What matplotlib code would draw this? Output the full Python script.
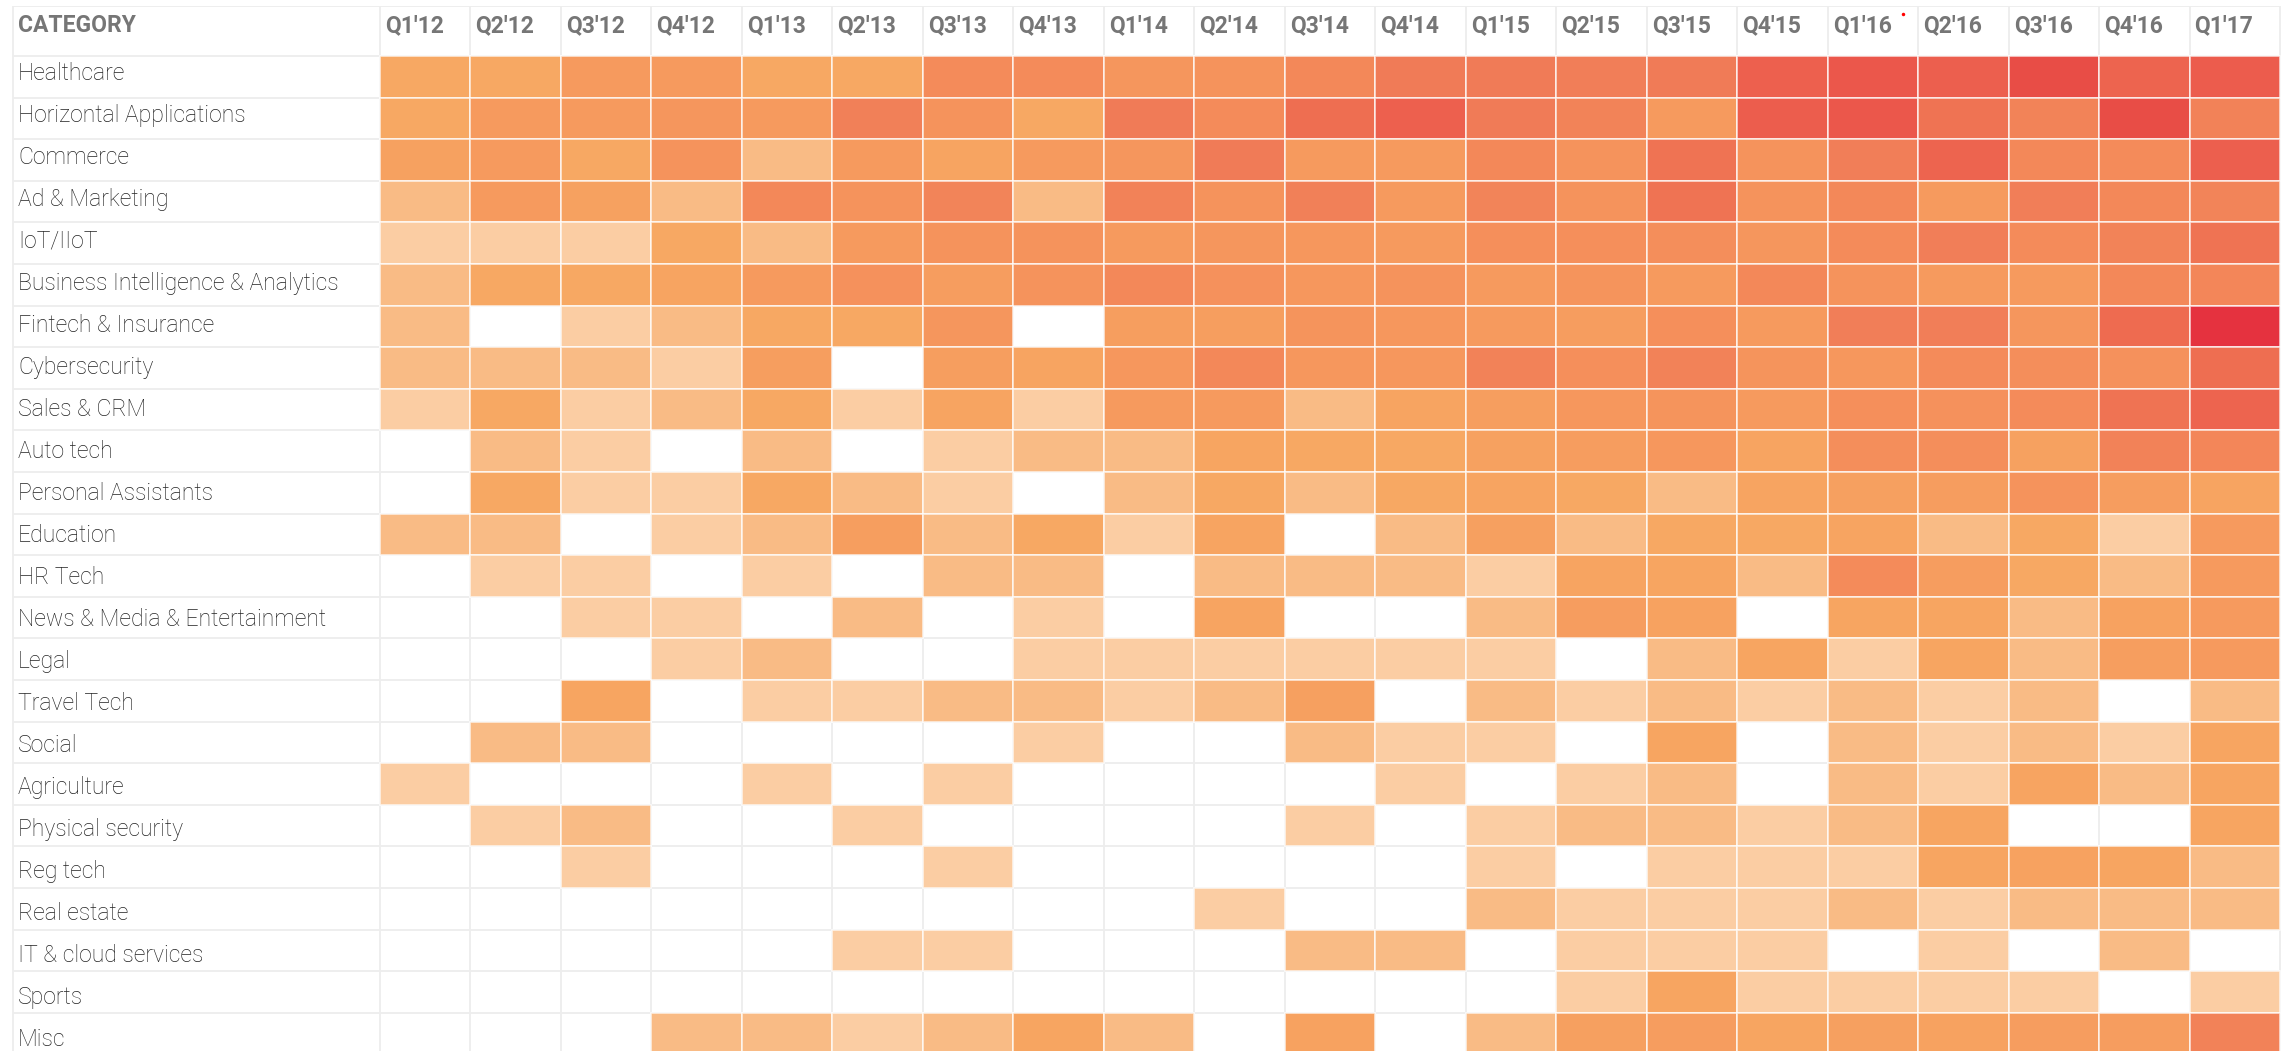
import numpy as np
import matplotlib
matplotlib.use("Agg")
import matplotlib.pyplot as plt
from matplotlib.colors import LinearSegmentedColormap, Normalize

plt.rcParams["font.family"] = ["Roboto", "DejaVu Sans"]

# data: relative deal-activity intensity per category and quarter (None = no deals)
quarters = ["Q1'12", "Q2'12", "Q3'12", "Q4'12", "Q1'13", "Q2'13", "Q3'13", "Q4'13",
            "Q1'14", "Q2'14", "Q3'14", "Q4'14", "Q1'15", "Q2'15", "Q3'15", "Q4'15",
            "Q1'16", "Q2'16", "Q3'16", "Q4'16", "Q1'17"]

categories = ["Healthcare", "Horizontal Applications", "Commerce", "Ad & Marketing",
              "IoT/IIoT", "Business Intelligence & Analytics", "Fintech & Insurance",
              "Cybersecurity", "Sales & CRM", "Auto tech", "Personal Assistants",
              "Education", "HR Tech", "News & Media & Entertainment", "Legal",
              "Travel Tech", "Social", "Agriculture", "Physical security", "Reg tech",
              "Real estate", "IT & cloud services", "Sports", "Misc"]

N = None
intensity = [
    [3, 3, 4, 4, 3, 3, 5, 5, 4.3, 4.5, 5.2, 6, 6, 5.8, 6, 7.7, 8.3, 7.8, 9, 7.5, 8],
    [3, 4, 4, 4.3, 4, 5.7, 4.5, 3, 6, 5, 6.8, 7.7, 6, 5.5, 4, 7.9, 8.3, 6.5, 5.5, 9, 5.6],
    [3.5, 4, 3, 4.5, 2, 4, 3.3, 4, 4.3, 6, 4, 4, 5.2, 4.5, 6.5, 4.5, 5.8, 7.5, 5.2, 5, 7.8],
    [2, 4, 3.5, 2, 5.2, 4.5, 5.4, 2, 5.6, 4.5, 5.7, 4, 5.4, 4.5, 6.5, 4.5, 5.2, 4, 5.8, 5.2, 5.4],
    [1, 1, 1, 3, 2, 4, 4.5, 4.5, 4, 4.3, 4.2, 4, 4.7, 4.7, 4.8, 4.3, 5, 5.8, 5, 5.5, 6.5],
    [2, 3, 3, 3.3, 4, 4.6, 3.8, 4.5, 5.2, 4.6, 4.2, 4.5, 4, 4.4, 4, 5.2, 4.5, 4, 4, 5.2, 5.3],
    [2, N, 1, 2, 3, 3, 4.3, N, 3.7, 3.7, 4.4, 4.2, 4, 3.8, 4.7, 4, 5.8, 5.8, 4.3, 7, 10],
    [2, 2, 2, 1, 3.7, N, 3.7, 3.3, 4.2, 5.2, 4.2, 4.2, 5.6, 4.7, 5.6, 4.4, 4.2, 5, 4.8, 4.6, 6.8],
    [1, 3, 1, 2, 3, 1, 3.3, 1, 4, 4, 2, 3.3, 3.7, 4.2, 4.4, 4, 4.7, 4.6, 5, 6.5, 7.5],
    [N, 2, 1, N, 2, N, 1, 2, 2, 3.2, 3, 3, 3.5, 3.8, 4.2, 3.3, 4.8, 4.8, 3.5, 5.6, 5.3],
    [N, 3, 1, 1, 3, 2, 1, N, 2, 3, 2, 3, 3.3, 3, 2, 3.3, 3.6, 3.8, 4.5, 3.8, 3.3],
    [2, 2, N, 1, 2, 3.7, 2, 3, 1, 3.3, N, 2, 3.6, 2, 3, 3, 3.3, 2, 3, 1, 4],
    [N, 1, 1, N, 1, N, 2, 2, N, 2, 2, 2, 1, 3.3, 3.2, 2, 5, 3.8, 3, 2, 4],
    [N, N, 1, 1, N, 2, N, 1, N, 3.3, N, N, 2, 3.8, 3.4, N, 3.2, 3.2, 2, 3.4, 4],
    [N, N, N, 1, 2, N, N, 1, 1, 1, 1, 1, 1, N, 2, 3.2, 1, 3.2, 2, 3.7, 4],
    [N, N, 3.2, N, 1, 1, 2, 2, 1, 2, 3.6, N, 2, 1, 2, 1, 2, 1, 2, N, 2],
    [N, 2, 2, N, N, N, N, 1, N, N, 2, 1, 1, N, 3.2, N, 2, 1, 2, 1, 3.2],
    [1, N, N, N, 1, N, 1, N, N, N, N, 1, N, 1, 2, N, 2, 1, 3.3, 2, 3.2],
    [N, 1, 2, N, N, 1, N, N, N, N, 1, N, 1, 2, 2, 1, 2, 3.2, N, N, 3.2],
    [N, N, 1, N, N, N, 1, N, N, N, N, N, 1, N, 1, 1, 1, 3.2, 3.4, 3.2, 2],
    [N, N, N, N, N, N, N, N, N, 1, N, N, 2, 1, 1, 1, 2, 1, 2, 2, 2],
    [N, N, N, N, N, 1, 1, N, N, N, 2, 2, N, 1, 1, 1, N, 1, N, 2, N],
    [N, N, N, N, N, N, N, N, N, N, N, N, N, 1, 3.2, 1, 1, 1, 1, N, 1],
    [N, N, N, 2, 2, 1, 2, 3.2, 2, N, 3.4, N, 2, 3.6, 3.8, 3.2, 3.6, 3.4, 3.8, 3.8, 5.6],
]

# colour scale (light peach -> red)
scale_colors = ["#FBCDA3", "#F9BB85", "#F7A862", "#F69A5E", "#F48B5A",
                "#F07B57", "#EE6B50", "#EC5C4D", "#E84D46", "#E5323F"]
cmap = LinearSegmentedColormap.from_list("peach_red", scale_colors)
norm = Normalize(1, 10)

# layout in pixels of the 2289 x 1051 output
W, H = 2289, 1051
col_w, row_h = 90.48, 41.6
label_w = 380
header_top, header_bot = 6, 56
label_first, label_step = 80, 42.0   # label baselines (px)

fig = plt.figure(figsize=(W / 100, H / 100), dpi=100)
fig.patch.set_facecolor("white")
n_rows, n_cols = len(categories), len(quarters)
top_rows = (header_bot - header_top) / row_h
bottom_px = header_bot + n_rows * row_h
ax = fig.add_axes([0, (H - bottom_px) / H, 1, (bottom_px - header_top) / H])
ax.set_xlim(-label_w / col_w, n_cols + (W - label_w - n_cols * col_w) / col_w)
ax.set_ylim(n_rows, -top_rows)
ax.axis("off")

# light grid
grid_c = "#EDEDED"
x_left = -label_w / col_w
x_frame = x_left + 13 / col_w
ax.hlines(np.arange(0, n_rows + 1), x_frame, n_cols, color=grid_c, lw=1.3, zorder=1)
ax.hlines(-top_rows, x_frame, n_cols, color=grid_c, lw=1.3, zorder=1)
ax.vlines(np.arange(0, n_cols + 1), -top_rows, n_rows, color=grid_c, lw=1.3, zorder=1)
ax.vlines(x_frame, -top_rows, n_rows, color=grid_c, lw=1.3, zorder=1)

# heat cells
vals = np.array([[np.nan if v is None else v for v in row] for row in intensity], dtype=float)
for r in range(n_rows):
    filled = np.where(~np.isnan(vals[r]))[0]
    ax.barh(np.full(len(filled), r + 0.5), np.ones(len(filled)), left=filled, height=1.0,
            color=cmap(norm(vals[r, filled])), edgecolor=(1, 1, 1, 0.75), linewidth=1.2,
            zorder=2)

# header
hdr_base = (32 - header_bot) / row_h
ax.text(x_left + 18 / col_w, hdr_base, "CATEGORY", fontsize=16.5, fontweight="bold",
        color="#767676", va="baseline", ha="left")
for j, q in enumerate(quarters):
    ax.text(j + 5 / col_w, hdr_base, q, fontsize=16.5, fontweight="bold",
            color="#767676", va="baseline", ha="left")

# small red marker next to the Q1'16 header
j16 = quarters.index("Q1'16")
ax.plot(j16 + 0.83, (14 - header_bot) / row_h, marker="o", ms=2.5, color="red",
        mec="none", zorder=3)

# row labels
for i, c in enumerate(categories):
    yb = (label_first + i * label_step - header_bot) / row_h
    ax.text(x_left + 18 / col_w, yb, c, fontsize=16.6, fontweight="light",
            color="#222222", va="baseline", ha="left")

fig.savefig("out.png", dpi=100, facecolor="white")
